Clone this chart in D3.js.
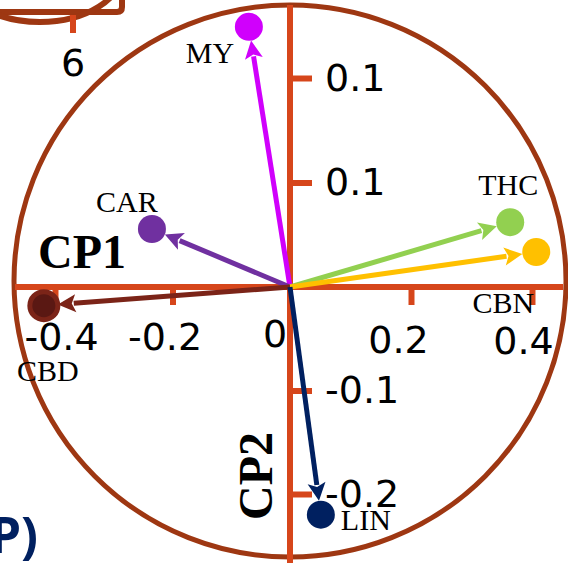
<!DOCTYPE html>
<html>
<head>
<meta charset="utf-8">
<style>
    body { margin: 0; background: #fff; }
    .tick text { font-family: "DejaVu Sans", sans-serif; }
    .axis .domain { display: none; }
</style>
</head>
<body>
<svg width="568" height="563"></svg>
<script src="https://d3js.org/d3.v7.min.js"></script>
<script>

// loadings
var names  = ["MY", "CAR", "THC", "CBN", "CBD", "LIN"];
var cp1    = [-0.070, -0.235, 0.364, 0.407, -0.419, 0.051];
var cp2    = [0.249, 0.0555, 0.062, 0.0335, -0.018, -0.220];
var colors = ["#d000fc", "#7030a0", "#92d050", "#ffc000", "#7b2418", "#002060"];

var xTicks = [-0.4, -0.2, 0.2, 0.4];
var xTickLabels = ["-0.4", "-0.2", "0.2", "0.4"];
var yTicks = [0.2, 0.1, -0.1, -0.2];
var yTickLabels = ["0.1", "0.1", "-0.1", "-0.2"];

var svg = d3.select("svg");
var axisColor = "#d6461b", ringColor = "#9e3712";

var x = d3.scaleLinear().domain([-0.4, 0, 0.4]).range([55, 290, 532]);
var y = d3.scaleLinear().domain([-0.2, 0, 0.2]).range([494, 287, 78]);

var ox = x(0), oy = y(0);

// bits of the neighbouring panel, cut off at the top left
svg.append("path")
    .attr("d", "M0,12 H117 Q122,12 122,7 V-5")
    .attr("fill", "none").attr("stroke", ringColor).attr("stroke-width", 6);
svg.append("ellipse")
    .attr("cx", 40).attr("cy", -30).attr("rx", 83).attr("ry", 52)
    .attr("fill", "none").attr("stroke", ringColor).attr("stroke-width", 6);
svg.append("line")
    .attr("x1", 73).attr("x2", 73).attr("y1", 15).attr("y2", 33)
    .attr("stroke", axisColor).attr("stroke-width", 6);
svg.append("text")
    .attr("x", 73).attr("y", 76)
    .attr("text-anchor", "middle")
    .attr("font-family", "DejaVu Sans").attr("font-size", 38)
    .text("6");

svg.append("text")
    .attr("x", 38).attr("y", 553)
    .attr("text-anchor", "end")
    .attr("font-family", "Open Sans").attr("font-weight", "bold")
    .attr("font-size", 50).attr("fill", "#002060")
    .text("(P)");

// correlation circle
svg.append("circle")
    .attr("cx", ox).attr("cy", 281).attr("r", 276)
    .attr("fill", "none").attr("stroke", ringColor).attr("stroke-width", 5);

// axis lines
svg.append("line")
    .attr("x1", 15).attr("x2", 563).attr("y1", oy).attr("y2", oy)
    .attr("stroke", axisColor).attr("stroke-width", 6);
svg.append("line")
    .attr("x1", ox).attr("x2", ox).attr("y1", 5).attr("y2", 563)
    .attr("stroke", axisColor).attr("stroke-width", 6);

var gx = svg.append("g")
    .attr("class", "axis")
    .attr("transform", "translate(0," + oy + ")")
    .call(d3.axisBottom(x).tickValues(xTicks)
        .tickFormat(function (d, i) { return xTickLabels[i]; })
        .tickSize(18).tickSizeOuter(0).tickPadding(18));

var gy = svg.append("g")
    .attr("class", "axis")
    .attr("transform", "translate(" + ox + ",0)")
    .call(d3.axisRight(y).tickValues(yTicks)
        .tickFormat(function (d, i) { return yTickLabels[i]; })
        .tickSize(22).tickSizeOuter(0).tickPadding(13));

[gx, gy].forEach(function (g) {
    g.selectAll(".tick line").attr("stroke", axisColor).attr("stroke-width", 6);
    g.selectAll(".tick text").attr("font-size", 38).attr("fill", "#000");
});

// the x labels in the figure sit a little off their ticks
var xLabelShift = {"-0.4": [6, 0], "-0.2": [-8, 0], "0.2": [-13, 3], "0.4": [-9, 4]};
gx.selectAll(".tick text")
    .attr("transform", function (d, i) {
        var s = xLabelShift[xTickLabels[i]];
        return "translate(" + s[0] + "," + s[1] + ")";
    });

svg.append("text")
    .attr("x", ox - 15).attr("y", 347)
    .attr("text-anchor", "middle")
    .attr("font-family", "DejaVu Sans").attr("font-size", 38)
    .text("0");

// axis titles
svg.append("text")
    .attr("x", 38).attr("y", 268)
    .attr("font-family", "Liberation Serif").attr("font-weight", "bold")
    .attr("font-size", 48)
    .text("CP1");
svg.append("text")
    .attr("transform", "translate(272,476) rotate(-90)")
    .attr("text-anchor", "middle")
    .attr("font-family", "Liberation Serif").attr("font-weight", "bold")
    .attr("font-size", 48)
    .text("CP2");

// arrows
var data = names.map(function (n, i) {
    return {name: n, px: x(cp1[i]), py: y(cp2[i]), color: colors[i]};
});

var r = 14, headLen = 18, headW = 9;

var arrows = svg.append("g").selectAll("g")
    .data(data)
    .enter().append("g");

arrows.each(function (d) {
    var g = d3.select(this);
    var dx = d.px - ox, dy = d.py - oy;
    var len = Math.sqrt(dx * dx + dy * dy);
    var ux = dx / len, uy = dy / len;
    var tipX = d.px - ux * r, tipY = d.py - uy * r;
    var baseX = tipX - ux * headLen, baseY = tipY - uy * headLen;
    g.append("line")
        .attr("x1", ox).attr("y1", oy)
        .attr("x2", baseX + ux * 2).attr("y2", baseY + uy * 2)
        .attr("stroke", d.color).attr("stroke-width", 5);
    g.append("path")
        .attr("d", "M" + tipX + "," + tipY +
            "L" + (baseX - uy * headW) + "," + (baseY + ux * headW) +
            "L" + (baseX + ux * 4) + "," + (baseY + uy * 4) +
            "L" + (baseX + uy * headW) + "," + (baseY - ux * headW) + "Z")
        .attr("fill", d.color);
});

arrows.append("circle")
    .attr("cx", function (d) { return d.px; })
    .attr("cy", function (d) { return d.py; })
    .attr("r", r)
    .attr("fill", function (d) { return d.name === "CBD" ? "#5a1813" : d.color; })
    .attr("stroke", function (d) { return d.name === "CBD" ? d.color : "none"; })
    .attr("stroke-width", 5);

// where each name sits around its point
var labelPos = {
    MY:  {dx: -39, dy: 36, anchor: "middle"},
    CAR: {dx: -25, dy: -17, anchor: "middle"},
    THC: {dx: -2, dy: -27, anchor: "middle"},
    CBN: {dx: -33, dy: 61, anchor: "middle"},
    CBD: {dx: 4, dy: 75, anchor: "middle"},
    LIN: {dx: 20, dy: 15, anchor: "start"}
};

arrows.append("text")
    .attr("x", function (d) { return d.px + labelPos[d.name].dx; })
    .attr("y", function (d) { return d.py + labelPos[d.name].dy; })
    .attr("text-anchor", function (d) { return labelPos[d.name].anchor; })
    .attr("font-family", "Liberation Serif")
    .attr("font-size", 30)
    .text(function (d) { return d.name; });

</script>
</body>
</html>
